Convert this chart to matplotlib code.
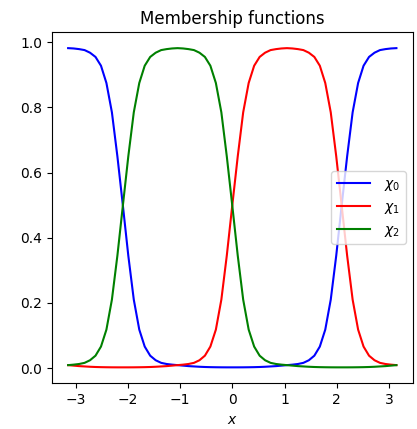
import matplotlib

matplotlib.use("Agg")
import matplotlib.pyplot as plt

# x samples (radians) from -pi to pi
x = [-3.142, -3.037, -2.932, -2.827, -2.723, -2.618, -2.513, -2.409, -2.304, -2.199,
     -2.094, -1.990, -1.885, -1.780, -1.676, -1.571, -1.466, -1.361, -1.257, -1.152,
     -1.047, -0.942, -0.838, -0.733, -0.628, -0.524, -0.419, -0.314, -0.209, -0.105,
     0.0,
     0.105, 0.209, 0.314, 0.419, 0.524, 0.628, 0.733, 0.838, 0.942, 1.047,
     1.152, 1.257, 1.361, 1.466, 1.571, 1.676, 1.780, 1.885, 1.990, 2.094,
     2.199, 2.304, 2.409, 2.513, 2.618, 2.723, 2.827, 2.932, 3.037, 3.142]

chi0 = [0.982, 0.981, 0.979, 0.976, 0.968, 0.955, 0.928, 0.875, 0.785, 0.65,
        0.499, 0.345, 0.21, 0.118, 0.066, 0.038, 0.024, 0.016, 0.0125, 0.0105,
        0.009, 0.0075, 0.006, 0.005, 0.004, 0.0033, 0.0028, 0.0025, 0.0023, 0.0022,
        0.0022,
        0.0022, 0.0023, 0.0025, 0.0028, 0.0033, 0.004, 0.005, 0.006, 0.0075, 0.009,
        0.0105, 0.0125, 0.016, 0.024, 0.038, 0.066, 0.118, 0.21, 0.345, 0.499,
        0.65, 0.785, 0.875, 0.928, 0.955, 0.968, 0.976, 0.979, 0.981, 0.982]

chi1 = [0.009, 0.0075, 0.006, 0.005, 0.004, 0.0033, 0.0028, 0.0025, 0.0023, 0.0022,
        0.0022, 0.0022, 0.0023, 0.0025, 0.0028, 0.0033, 0.004, 0.005, 0.006, 0.0075,
        0.009, 0.0105, 0.0125, 0.016, 0.024, 0.038, 0.066, 0.118, 0.21, 0.345,
        0.499,
        0.65, 0.785, 0.875, 0.928, 0.955, 0.968, 0.976, 0.979, 0.981, 0.982,
        0.981, 0.979, 0.976, 0.968, 0.955, 0.928, 0.875, 0.785, 0.65, 0.499,
        0.345, 0.21, 0.118, 0.066, 0.038, 0.024, 0.016, 0.0125, 0.0105, 0.009]

chi2 = [0.009, 0.0105, 0.0125, 0.016, 0.024, 0.038, 0.066, 0.118, 0.21, 0.345,
        0.499, 0.65, 0.785, 0.875, 0.928, 0.955, 0.968, 0.976, 0.979, 0.981,
        0.982, 0.981, 0.979, 0.976, 0.968, 0.955, 0.928, 0.875, 0.785, 0.65,
        0.499,
        0.345, 0.21, 0.118, 0.066, 0.038, 0.024, 0.016, 0.0125, 0.0105, 0.009,
        0.0075, 0.006, 0.005, 0.004, 0.0033, 0.0028, 0.0025, 0.0023, 0.0022, 0.0022,
        0.0022, 0.0023, 0.0025, 0.0028, 0.0033, 0.004, 0.005, 0.006, 0.0075, 0.009]

fig, ax = plt.subplots(figsize=(4.17, 4.29), dpi=100)
fig.subplots_adjust(left=0.124, right=0.99, bottom=0.1065, top=0.925)
ax.plot(x, chi0, color="b", label=r"$\chi_0$")
ax.plot(x, chi1, color="r", label=r"$\chi_1$")
ax.plot(x, chi2, color="g", label=r"$\chi_2$")
ax.set_xlabel(r"$x$")
ax.set_title("Membership functions")
ax.legend(loc="center right", handlelength=2.4, handletextpad=1.0)
fig.savefig("out.png")
plt.close(fig)
